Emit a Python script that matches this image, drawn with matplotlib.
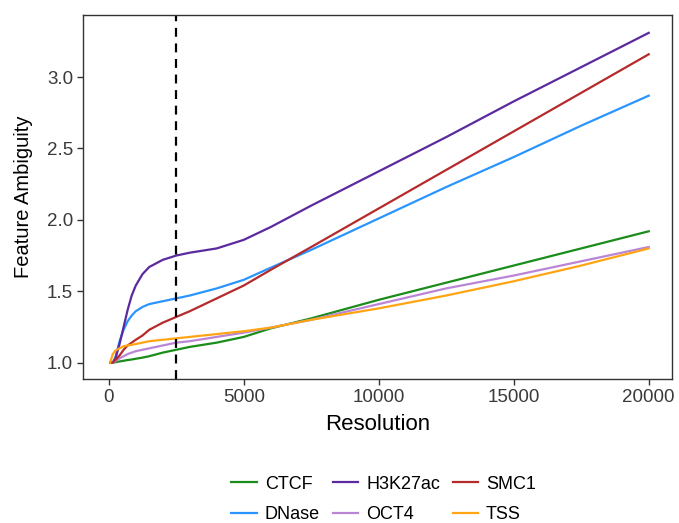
#!/usr/bin/env python3
"""
Feature ambiguity vs. resolution, one line per feature type
"""

import matplotlib
matplotlib.use('Agg')
import matplotlib.pyplot as plt

plt.rcParams['font.family'] = ['Liberation Sans', 'DejaVu Sans']

# resolution values (bp)
resolution = [50, 150, 250, 400, 550, 700, 850, 1000, 1250, 1500, 2000, 2500,
              3000, 4000, 5000, 6000, 7500, 10000, 12500, 15000, 17500, 20000]

ctcf = [1.0, 1.0, 1.003, 1.008, 1.013, 1.018, 1.022, 1.027, 1.035, 1.045,
        1.07, 1.09, 1.11, 1.14, 1.18, 1.24, 1.31, 1.44, 1.56, 1.68, 1.80, 1.92]
dnase = [1.0, 1.0, 1.04, 1.15, 1.23, 1.29, 1.33, 1.36, 1.39, 1.41,
         1.43, 1.45, 1.47, 1.52, 1.58, 1.665, 1.79, 2.01, 2.23, 2.44, 2.66, 2.87]
h3k27ac = [1.0, 1.0, 1.03, 1.13, 1.25, 1.37, 1.47, 1.54, 1.62, 1.67,
           1.72, 1.75, 1.77, 1.80, 1.86, 1.95, 2.10, 2.34, 2.58, 2.83, 3.07, 3.31]
oct4 = [1.0, 1.0, 1.01, 1.03, 1.045, 1.06, 1.07, 1.08, 1.09, 1.10,
        1.12, 1.14, 1.15, 1.18, 1.21, 1.245, 1.30, 1.41, 1.52, 1.61, 1.71, 1.81]
smc1 = [1.0, 1.0, 1.02, 1.05, 1.09, 1.12, 1.14, 1.16, 1.19, 1.23,
        1.28, 1.32, 1.36, 1.45, 1.54, 1.65, 1.81, 2.08, 2.35, 2.62, 2.89, 3.16]
tss = [1.0, 1.06, 1.085, 1.10, 1.115, 1.12, 1.125, 1.13, 1.14, 1.15,
       1.16, 1.17, 1.18, 1.20, 1.22, 1.245, 1.30, 1.38, 1.47, 1.57, 1.68, 1.80]

# order chosen so a 3-column legend reads row-wise like the original
series = [
    ('CTCF', ctcf, '#1a8c1a'),
    ('DNase', dnase, '#2b95ff'),
    ('H3K27ac', h3k27ac, '#5b2a9e'),
    ('OCT4', oct4, '#bb85d6'),
    ('SMC1', smc1, '#b52a2a'),
    ('TSS', tss, '#ffa514'),
]

cutoff = 2500

fig = plt.figure(figsize=(6.79, 5.23), dpi=100)
ax = fig.add_axes([0.122, 0.275, 0.868, 0.696])

for name, values, color in series:
    ax.plot(resolution, values, color=color, linewidth=1.6, label=name,
            solid_joinstyle='round')

ax.axvline(cutoff, color='black', linestyle=(0, (4, 3)), linewidth=1.6)

ax.set_xlim(-960, 20870)
ax.set_ylim(0.884, 3.434)
ax.set_xticks([0, 5000, 10000, 15000, 20000])
ax.set_yticks([1.0, 1.5, 2.0, 2.5, 3.0])
ax.set_yticklabels(['1.0', '1.5', '2.0', '2.5', '3.0'])

for spine in ax.spines.values():
    spine.set_color('#333333')
    spine.set_linewidth(1.0)
ax.tick_params(axis='both', colors='#333333', length=4, width=1.0,
               labelsize=13.5, labelcolor='#3a3a3a', pad=3)

ax.set_xlabel('Resolution', fontsize=16, labelpad=6)
ax.set_ylabel('Feature Ambiguity', fontsize=14.5, labelpad=10)

fig.legend(loc='lower center', bbox_to_anchor=(0.565, -0.021), ncol=3,
           frameon=False, fontsize=13, handlelength=1.4, handletextpad=0.45,
           columnspacing=0.7, labelspacing=0.75, borderpad=0.1)

plt.savefig('out.png', dpi=100)
